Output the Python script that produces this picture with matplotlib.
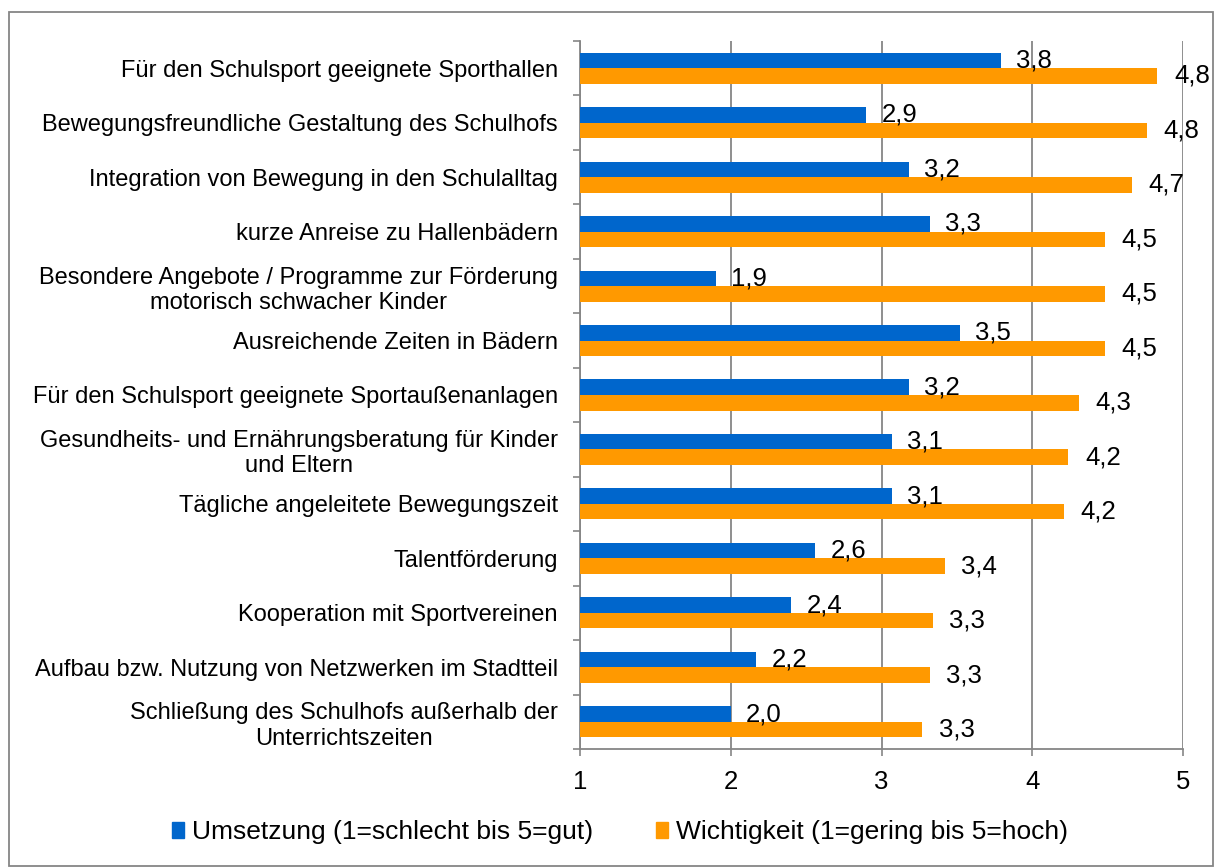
import matplotlib
matplotlib.use('Agg')
import matplotlib.pyplot as plt
import matplotlib.patches as mpatches
import numpy as np

plt.rcParams['font.family'] = ['Liberation Sans', 'DejaVu Sans']

categories = [
    'Für den Schulsport geeignete Sporthallen',
    'Bewegungsfreundliche Gestaltung des Schulhofs',
    'Integration von Bewegung in den Schulalltag',
    'kurze Anreise zu Hallenbädern',
    'Besondere Angebote / Programme zur Förderung\nmotorisch schwacher Kinder',
    'Ausreichende Zeiten in Bädern',
    'Für den Schulsport geeignete Sportaußenanlagen',
    'Gesundheits- und Ernährungsberatung für Kinder\nund Eltern',
    'Tägliche angeleitete Bewegungszeit',
    'Talentförderung',
    'Kooperation mit Sportvereinen',
    'Aufbau bzw. Nutzung von Netzwerken im Stadtteil',
    'Schließung des Schulhofs außerhalb der\nUnterrichtszeiten',
]
umsetzung = [3.79, 2.90, 3.18, 3.32, 1.90, 3.52, 3.18, 3.07, 3.07, 2.56, 2.40, 2.17, 2.00]
wichtigkeit = [4.83, 4.76, 4.66, 4.48, 4.48, 4.48, 4.31, 4.24, 4.21, 3.42, 3.34, 3.32, 3.27]
series_names = ['Umsetzung (1=schlecht bis 5=gut)', 'Wichtigkeit (1=gering bis 5=hoch)']
x_ticks = [1, 2, 3, 4, 5]

blue = '#0066CC'
orange = '#FF9900'
grey = '#868686'
fs_cat = 17
fs_val = 18.5

fig = plt.figure(figsize=(12.15, 8.67), dpi=100)
ax = fig.add_axes([580/1215, 1-749/867, (1183-580)/1215, (749-41)/867])

y = np.arange(len(categories))
h = 0.285
base = 1
ax.barh(y - h/2, np.array(umsetzung) - base, left=base, height=h, color=blue, zorder=3)
ax.barh(y + h/2, np.array(wichtigkeit) - base, left=base, height=h, color=orange, zorder=3)

def fmt(v):
    return ('%.1f' % v).replace('.', ',')

for i in range(len(categories)):
    ax.annotate(fmt(umsetzung[i]), (umsetzung[i], y[i] - h/2), xytext=(11, 0),
                textcoords='offset points', ha='left', va='center', fontsize=fs_val, zorder=4)
    ax.annotate(fmt(wichtigkeit[i]), (wichtigkeit[i], y[i] + h/2), xytext=(12, 0),
                textcoords='offset points', ha='left', va='center', fontsize=fs_val, zorder=4)

ax.set_xlim(1, 5)
ax.set_ylim(len(categories) - 0.5, -0.5)
ax.set_xticks(x_ticks)
ax.set_xticklabels([str(t) for t in x_ticks], fontsize=fs_val)
ax.set_yticks(y)
ax.set_yticklabels(categories, fontsize=fs_cat, multialignment='center')
ax.set_yticks(np.arange(len(categories) + 1) - 0.5, minor=True)
ax.tick_params(axis='y', which='major', length=0, pad=16)
ax.tick_params(axis='y', which='minor', length=5, color=grey, width=1.2)
ax.tick_params(axis='x', length=5, color=grey, width=1.2, pad=10)

ax.grid(axis='x', color=grey, lw=1.3, zorder=0)
for s in ['top', 'right']:
    ax.spines[s].set_visible(False)
for s in ['left', 'bottom']:
    ax.spines[s].set_color(grey)
    ax.spines[s].set_linewidth(1.3)

handles = [mpatches.Patch(color=blue), mpatches.Patch(color=orange)]
fig.legend(handles, series_names, loc='center', bbox_to_anchor=(620/1215, 1-832/867),
           ncol=2, frameon=False, fontsize=19, handlelength=0.45, handleheight=0.55,
           handletextpad=0.3, columnspacing=2.4)

fig.patches.append(mpatches.Rectangle((9/1215, 1/867), 1204/1215, 854/867,
                                      transform=fig.transFigure, fill=False,
                                      edgecolor=grey, lw=1.3))

fig.savefig('out.png', dpi=100)
